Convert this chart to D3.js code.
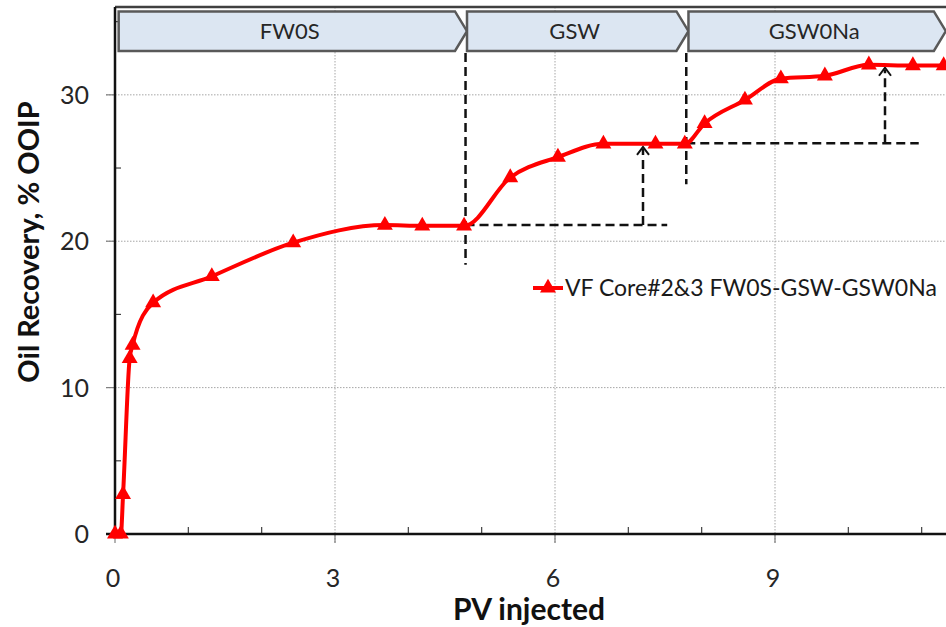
<!DOCTYPE html>
<html lang="en">
<head>
    <meta charset="UTF-8">
    <title>Oil Recovery vs PV injected</title>
    <script src="https://d3js.org/d3.v7.min.js"></script>
    <style>
        body {
            margin: 0;
            background-color: #fff;
        }
        svg {
            display: block;
            font-family: Lato, "Open Sans", sans-serif;
        }
        .grid line {
            stroke: #a6a6a6;
            stroke-width: 1;
            stroke-dasharray: 1.5, 1.5;
        }
        .tick-label {
            font-size: 25px;
            fill: #262626;
        }
        .axis-title {
            font-weight: bold;
            fill: #111;
        }
        .guide {
            stroke: #111;
            stroke-width: 2.5;
            stroke-dasharray: 9, 5;
            fill: none;
        }
    </style>
</head>
<body>
    <div id="chart"></div>

    <script>
        // data
        const pvInjected = [0, 0.08, 0.11, 0.2, 0.24, 0.52, 1.32, 2.43, 3.68, 4.19, 4.76,
                            5.39, 6.04, 6.66, 7.37, 7.77, 8.04, 8.59, 9.08, 9.68, 10.28, 10.88, 11.3];
        const oilRecovery = [0, 0, 2.7, 12.0, 12.9, 15.8, 17.6, 19.9, 21.1, 21.05, 21.05,
                             24.35, 25.75, 26.65, 26.65, 26.65, 28.05, 29.65, 31.1, 31.3, 32.05, 32.0, 32.0];
        const seriesName = "VF Core#2&3 FW0S-GSW-GSW0Na";

        const xTicks = [0, 3, 6, 9, 12];
        const yTicks = [0, 10, 20, 30];

        // injection phases (banner arrows on top)
        const phaseNames = ["FW0S", "GSW", "GSW0Na"];
        const phaseStart = [0.05, 4.8, 7.82];
        const phaseEnd = [4.8, 7.82, 11.33];

        // dashed guides and increment arrows
        const switchPV = [4.78, 7.79];
        const switchLow = [18.4, 23.9];
        const plateauLevel = [21.1, 26.7];
        const plateauEnd = [7.53, 10.96];
        const arrowPV = [7.2, 10.5];
        const arrowTop = [26.45, 31.85];

        const width = 946, height = 627;
        const svg = d3.select('#chart').append('svg')
            .attr('width', width)
            .attr('height', height);

        const x = d3.scaleLinear().domain([0, 12]).range([115, 995]);
        const y = d3.scaleLinear().domain([0, 36]).range([534, 7]);

        // grid
        const grid = svg.append('g').attr('class', 'grid');
        grid.selectAll('.gx')
            .data(xTicks.filter(d => d > 0))
            .enter().append('line')
            .attr('x1', d => x(d)).attr('x2', d => x(d))
            .attr('y1', y(36)).attr('y2', y(0) + 9);
        grid.selectAll('.gy')
            .data(yTicks.filter(d => d > 0))
            .enter().append('line')
            .attr('x1', x(0) - 9).attr('x2', x(12))
            .attr('y1', d => y(d)).attr('y2', d => y(d));

        // minor ticks
        const minorX = d3.range(1, 12).filter(d => d % 3 !== 0);
        svg.append('g').selectAll('line')
            .data(minorX)
            .enter().append('line')
            .attr('x1', d => x(d)).attr('x2', d => x(d))
            .attr('y1', y(0)).attr('y2', y(0) - 7)
            .attr('stroke', '#404040').attr('stroke-width', 1.2);
        const minorY = [5, 15, 25, 35];
        svg.append('g').selectAll('line')
            .data(minorY)
            .enter().append('line')
            .attr('x1', x(0)).attr('x2', x(0) + 6)
            .attr('y1', d => y(d)).attr('y2', d => y(d))
            .attr('stroke', '#404040').attr('stroke-width', 1.2);
        // major tick stubs outside
        svg.append('g').selectAll('line')
            .data(yTicks)
            .enter().append('line')
            .attr('x1', x(0) - 9).attr('x2', x(0))
            .attr('y1', d => y(d)).attr('y2', d => y(d))
            .attr('stroke', '#808080').attr('stroke-width', 1.2);
        svg.append('g').selectAll('line')
            .data(xTicks)
            .enter().append('line')
            .attr('x1', d => x(d)).attr('x2', d => x(d))
            .attr('y1', y(0)).attr('y2', y(0) + 9)
            .attr('stroke', '#808080').attr('stroke-width', 1.2);

        // plot border / axes
        svg.append('line')
            .attr('x1', x(0)).attr('x2', x(12))
            .attr('y1', y(36)).attr('y2', y(36))
            .attr('stroke', '#404040').attr('stroke-width', 2.5);
        svg.append('line')
            .attr('x1', x(0)).attr('x2', x(0))
            .attr('y1', y(36)).attr('y2', y(0))
            .attr('stroke', '#111').attr('stroke-width', 2.5);
        svg.append('line')
            .attr('x1', x(0) - 9).attr('x2', x(12))
            .attr('y1', y(0)).attr('y2', y(0))
            .attr('stroke', '#111').attr('stroke-width', 2.5);

        // tick labels (12 falls outside the cropped picture)
        svg.append('g').selectAll('text')
            .data(yTicks)
            .enter().append('text')
            .attr('class', 'tick-label')
            .attr('x', x(0) - 26)
            .attr('y', d => y(d))
            .attr('dy', '0.36em')
            .attr('text-anchor', 'end')
            .text(d => d);
        svg.append('g').selectAll('text')
            .data(xTicks.filter(d => x(d) < width - 20))
            .enter().append('text')
            .attr('class', 'tick-label')
            .attr('x', d => x(d) - 2)
            .attr('y', y(0) + 53)
            .attr('text-anchor', 'middle')
            .text(d => d);

        // axis titles
        svg.append('text')
            .attr('class', 'axis-title')
            .attr('x', 529).attr('y', 620)
            .attr('text-anchor', 'middle')
            .attr('font-size', 30)
            .text('PV injected');
        svg.append('text')
            .attr('class', 'axis-title')
            .attr('transform', 'translate(39,242) rotate(-90)')
            .attr('text-anchor', 'middle')
            .attr('font-size', 29)
            .text('Oil Recovery, % OOIP');

        // phase banners
        const bTop = y(35.7), bBot = y(33.0), tip = 12;
        const banners = svg.append('g');
        phaseNames.forEach((name, i) => {
            const x0 = x(phaseStart[i]), x1 = x(phaseEnd[i]);
            const mid = (bTop + bBot) / 2;
            banners.append('path')
                .attr('d', `M${x0},${bTop} L${x1 - tip},${bTop} L${x1},${mid} L${x1 - tip},${bBot} L${x0},${bBot} Z`)
                .attr('fill', '#dce6f2')
                .attr('stroke', '#595959')
                .attr('stroke-width', 2.5)
                .attr('stroke-linejoin', 'miter');
            banners.append('text')
                .attr('x', (x0 + x1) / 2 - 3)
                .attr('y', mid)
                .attr('dy', '0.36em')
                .attr('text-anchor', 'middle')
                .attr('font-size', 22)
                .attr('fill', '#262626')
                .text(name);
        });

        // dashed guides
        const guides = svg.append('g');
        switchPV.forEach((pv, i) => {
            guides.append('line').attr('class', 'guide')
                .attr('x1', x(pv)).attr('x2', x(pv))
                .attr('y1', bBot + 2).attr('y2', y(switchLow[i]));
            guides.append('line').attr('class', 'guide')
                .attr('x1', x(pv)).attr('x2', x(plateauEnd[i]))
                .attr('y1', y(plateauLevel[i])).attr('y2', y(plateauLevel[i]));
            guides.append('line').attr('class', 'guide')
                .attr('x1', x(arrowPV[i])).attr('x2', x(arrowPV[i]))
                .attr('y1', y(plateauLevel[i])).attr('y2', y(arrowTop[i]) + 2);
            const ax = x(arrowPV[i]), ay = y(arrowTop[i]);
            guides.append('path')
                .attr('d', `M${ax - 6},${ay + 8} L${ax},${ay} L${ax + 6},${ay + 8}`)
                .attr('stroke', '#111').attr('stroke-width', 2).attr('fill', 'none');
        });

        // series
        const points = pvInjected.map((d, i) => [d, oilRecovery[i]]);
        const line = d3.line()
            .x(d => x(d[0]))
            .y(d => y(d[1]))
            .curve(d3.curveMonotoneX);
        svg.append('path')
            .datum(points)
            .attr('d', line)
            .attr('fill', 'none')
            .attr('stroke', '#ff0000')
            .attr('stroke-width', 4)
            .attr('stroke-linejoin', 'round');

        const tri = d3.symbol().type(d3.symbolTriangle).size(110);
        svg.append('g').selectAll('path')
            .data(points)
            .enter().append('path')
            .attr('d', tri)
            .attr('transform', d => `translate(${x(d[0])},${y(d[1])})`)
            .attr('fill', '#ff0000');

        // legend
        const legend = svg.append('g').attr('transform', 'translate(533,288)');
        legend.append('line')
            .attr('x1', 0).attr('x2', 30)
            .attr('stroke', '#ff0000').attr('stroke-width', 4);
        legend.append('path')
            .attr('d', tri)
            .attr('transform', 'translate(15,0)')
            .attr('fill', '#ff0000');
        legend.append('text')
            .attr('x', 32).attr('y', 0)
            .attr('dy', '0.36em')
            .attr('font-size', 23)
            .attr('fill', '#1a1a1a')
            .text(seriesName);
    </script>
</body>
</html>
